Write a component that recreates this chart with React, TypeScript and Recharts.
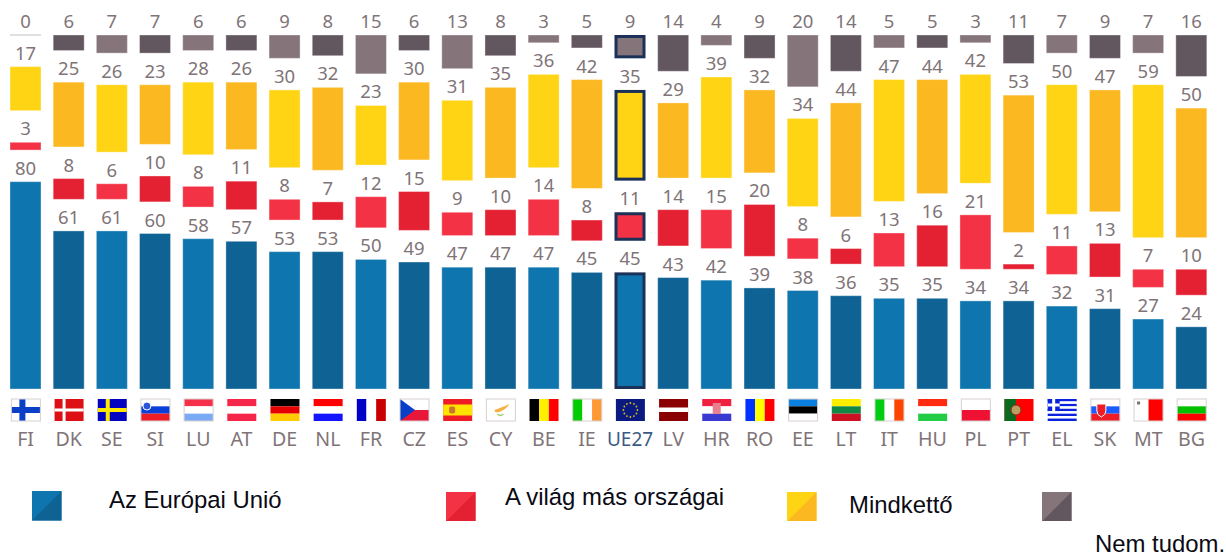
import React from "react";
import { BarChart, Bar, XAxis, YAxis, LabelList } from "recharts";

const countries = ["FI", "DK", "SE", "SI", "LU", "AT", "DE", "NL", "FR", "CZ", "ES", "CY", "BE", "IE", "UE27", "LV", "HR", "RO", "EE", "LT", "IT", "HU", "PL", "PT", "EL", "SK", "MT", "BG"];
const eu = [80, 61, 61, 60, 58, 57, 53, 53, 50, 49, 47, 47, 47, 45, 45, 43, 42, 39, 38, 36, 35, 35, 34, 34, 32, 31, 27, 24];
const world = [3, 8, 6, 10, 8, 11, 8, 7, 12, 15, 9, 10, 14, 8, 11, 14, 15, 20, 8, 6, 13, 16, 21, 2, 11, 13, 7, 10];
const both = [17, 25, 26, 23, 28, 26, 30, 32, 23, 30, 31, 35, 36, 42, 35, 29, 39, 32, 34, 44, 47, 44, 42, 53, 50, 47, 59, 50];
const dontKnow = [0, 6, 7, 7, 6, 6, 9, 8, 15, 6, 13, 8, 3, 5, 9, 14, 4, 9, 20, 14, 5, 5, 3, 11, 7, 9, 7, 16];

// empty space between the segments, in chart units
const SPACER = 12.2;

const chartData = countries.map((c, i) => ({
  country: c,
  eu: eu[i],
  gapA: SPACER,
  world: world[i],
  gapB: SPACER,
  both: both[i],
  gapC: SPACER,
  dontKnow: dontKnow[i],
}));

const BLUE = ["#0f75ae", "#0e6294"];
const RED = ["#f43245", "#e42133"];
const YELLOW = ["#ffd414", "#fbb820"];
const GREY = ["#85757a", "#62565f"];
const NAVY = "#1c3157";
const TEXT = "#7f7478";

const legendItems = [
  { label: "Az Európai Unió", colors: BLUE, box: [32, 491], text: [109, 508] },
  { label: "A világ más országai", colors: RED, box: [446, 491.5], text: [505, 505] },
  { label: "Mindkettő", colors: YELLOW, box: [787, 491.5], text: [849, 513] },
  { label: "Nem tudom.", colors: GREY, box: [1042, 491.5], text: [1095, 552] },
];

// flags with white at the edge have a visible grey frame
const framedFlags = ["FI", "SI", "LU", "CY", "IE", "IT", "PL", "EE", "SK", "MT", "BG", "CZ"];

function segment(colors: string[]) {
  return (props: any) => {
    const { x, y, width, height, index } = props;
    const fill = colors[index % 2];
    if (height <= 0) {
      return <line x1={x} x2={x + width} y1={y} y2={y} stroke="#c4bfc1" strokeWidth={1} />;
    }
    if (countries[index] === "UE27") {
      return <rect x={x + 1.5} y={y + 1.5} width={width - 3} height={height - 3} fill={fill} stroke={NAVY} strokeWidth={3} />;
    }
    return <rect x={x} y={y} width={width} height={height} fill={fill} stroke="#ffffff" strokeOpacity={0.35} strokeWidth={1} />;
  };
}

const W = 29;
const H = 22;

function hStripes(colors: string[]) {
  return colors.map((c, i) => <rect key={i} x={0} y={(i * H) / colors.length} width={W} height={H / colors.length} fill={c} />);
}
function vStripes(colors: string[]) {
  return colors.map((c, i) => <rect key={i} x={(i * W) / colors.length} y={0} width={W / colors.length} height={H} fill={c} />);
}
function cross(bg: string, fg: string, t: number) {
  return (
    <>
      <rect width={W} height={H} fill={bg} />
      <rect x={8} y={0} width={t} height={H} fill={fg} />
      <rect x={0} y={(H - t) / 2} width={W} height={t} fill={fg} />
    </>
  );
}

function flagBody(code: string) {
  switch (code) {
    case "FI": return cross("#ffffff", "#0a3fc8", 6);
    case "DK": return cross("#dd1016", "#ffffff", 3);
    case "SE": return cross("#0404c0", "#ffe800", 4);
    case "SI":
      return (
        <>
          {hStripes(["#ffffff", "#0a3fd8", "#ee1c25"])}
          <circle cx={6} cy={7} r={4} fill="#2a55d8" stroke="#ffffff" />
        </>
      );
    case "LU": return hStripes(["#f7304a", "#ffffff", "#7aa9f5"]);
    case "AT": return hStripes(["#f5264a", "#ffffff", "#f5264a"]);
    case "DE": return hStripes(["#000000", "#e60000", "#ffcc00"]);
    case "NL": return hStripes(["#ff0000", "#ffffff", "#1414ff"]);
    case "FR": return vStripes(["#0000c8", "#ffffff", "#c80000"]);
    case "CZ":
      return (
        <>
          {hStripes(["#ffffff", "#e8173a"])}
          <path d={`M0 0L15 ${H / 2}L0 ${H}Z`} fill="#0a3fc8" />
        </>
      );
    case "ES":
      return (
        <>
          <rect width={W} height={H} fill="#ee1c25" />
          <rect y={5.5} width={W} height={11} fill="#ffe400" />
          <rect x={6} y={7.5} width={6} height={7} rx={2} fill="#c8782a" />
        </>
      );
    case "CY":
      return (
        <>
          <rect width={W} height={H} fill="#ffffff" />
          <path d="M8 11Q14 9 23 5Q20 10 15 12Q12 14 9 13Z" fill="#f5b040" />
          <path d="M11 15Q14 18 17 15" stroke="#9ccf70" fill="none" strokeWidth={1.5} />
        </>
      );
    case "BE": return vStripes(["#000000", "#ffee00", "#ff0000"]);
    case "IE": return vStripes(["#00cc00", "#ffffff", "#ff9933"]);
    case "UE27":
      return (
        <>
          <rect width={W} height={H} fill="#0a1a80" />
          {Array.from({ length: 12 }, (_, i) => (
            <circle key={i} cx={W / 2 + 7 * Math.cos((i * Math.PI) / 6)} cy={H / 2 + 7 * Math.sin((i * Math.PI) / 6)} r={0.9} fill="#d8c020" />
          ))}
        </>
      );
    case "LV":
      return (
        <>
          <rect width={W} height={H} fill="#8b0000" />
          <rect y={8.5} width={W} height={4.5} fill="#ffffff" />
        </>
      );
    case "HR":
      return (
        <>
          {hStripes(["#f02040", "#ffffff", "#3a3ad0"])}
          <rect x={10.5} y={4} width={8} height={11} fill="#e88090" />
        </>
      );
    case "RO": return vStripes(["#0033ff", "#ffff00", "#ff0000"]);
    case "EE": return hStripes(["#0a80e0", "#000000", "#ffffff"]);
    case "LT": return hStripes(["#ffee00", "#118844", "#cc1122"]);
    case "IT": return vStripes(["#00cc11", "#ffffff", "#ff4400"]);
    case "HU": return hStripes(["#ff2a10", "#ffffff", "#22cc44"]);
    case "PL": return hStripes(["#ffffff", "#ee1133"]);
    case "PT":
      return (
        <>
          <rect width={W} height={H} fill="#ff0000" />
          <rect width={11.5} height={H} fill="#0a6a20" />
          <circle cx={11.5} cy={11} r={5} fill="#b8a060" stroke="#a02020" />
        </>
      );
    case "EL":
      return (
        <>
          {hStripes(["#0a22dd", "#ffffff", "#0a22dd", "#ffffff", "#0a22dd", "#ffffff", "#0a22dd", "#ffffff", "#0a22dd"])}
          <rect width={12} height={12} fill="#0a22dd" />
          <rect x={4.5} width={3} height={12} fill="#ffffff" />
          <rect y={4.5} width={12} height={3} fill="#ffffff" />
        </>
      );
    case "SK":
      return (
        <>
          {hStripes(["#ffffff", "#1a5cff", "#ee1c25"])}
          <path d="M6 5H15V12Q15 16 10.5 18Q6 16 6 12Z" fill="#ee1c25" stroke="#ffffff" />
        </>
      );
    case "MT":
      return (
        <>
          {vStripes(["#ffffff", "#ff0000"])}
          <rect x={3} y={2.5} width={3} height={3} fill="#807070" />
        </>
      );
    case "BG": return hStripes(["#ffffff", "#00c000", "#ff0000"]);
    default: return null;
  }
}

function CountryTick(props: any) {
  const { x, y, payload } = props;
  const code = payload.value as string;
  const isEu = code === "UE27";
  return (
    <g>
      <g transform={`translate(${x - 14.2},${y + 10})`}>
        {flagBody(code)}
        {framedFlags.includes(code) && (
          <rect x={0} y={0} width={W} height={H} fill="none" stroke="#d8d0ce" strokeWidth={1} />
        )}
      </g>
      <text
        x={x}
        y={y + 57}
        textAnchor="middle"
        fontFamily="'Noto Sans', sans-serif"
        fontSize={isEu ? 19 : 19.6}
        fill={isEu ? "#3a5a85" : TEXT}
      >
        {code}
      </text>
    </g>
  );
}

const labelProps = {
  position: "top" as const,
  offset: 7,
  fill: TEXT,
  fontSize: 18.5,
  fontFamily: "'Noto Sans', sans-serif",
};

function LegendBox({ colors, left, top }: { colors: string[]; left: number; top: number }) {
  return (
    <svg width={29.5} height={29.5} style={{ position: "absolute", left, top }}>
      <rect x={0} y={0} width={29.5} height={29.5} fill={colors[0]} />
      <path d="M29.5 0V29.5H0Z" fill={colors[1]} />
    </svg>
  );
}

export default function App() {
  return (
    <div style={{ position: "absolute", left: 0, top: 0, width: 1226, height: 553, overflow: "hidden", background: "#ffffff" }}>
      <BarChart
        width={1226}
        height={553}
        data={chartData}
        margin={{ top: 35, right: 13, bottom: 0, left: 4 }}
        barCategoryGap={12}
      >
        <XAxis
          dataKey="country"
          axisLine={false}
          tickLine={false}
          tickSize={0}
          tickMargin={0}
          interval={0}
          height={164}
          tick={CountryTick}
        />
        <YAxis hide domain={[0, 136.6]} />
        <Bar dataKey="eu" stackId="s" barSize={31} shape={segment(BLUE)} isAnimationActive={false}>
          <LabelList dataKey="eu" {...labelProps} />
        </Bar>
        <Bar dataKey="gapA" stackId="s" barSize={31} fill="none" isAnimationActive={false} />
        <Bar dataKey="world" stackId="s" barSize={31} shape={segment(RED)} isAnimationActive={false}>
          <LabelList dataKey="world" {...labelProps} />
        </Bar>
        <Bar dataKey="gapB" stackId="s" barSize={31} fill="none" isAnimationActive={false} />
        <Bar dataKey="both" stackId="s" barSize={31} shape={segment(YELLOW)} isAnimationActive={false}>
          <LabelList dataKey="both" {...labelProps} />
        </Bar>
        <Bar dataKey="gapC" stackId="s" barSize={31} fill="none" isAnimationActive={false} />
        <Bar dataKey="dontKnow" stackId="s" barSize={31} shape={segment(GREY)} isAnimationActive={false}>
          <LabelList dataKey="dontKnow" {...labelProps} />
        </Bar>
      </BarChart>

      {legendItems.map((item) => (
        <React.Fragment key={item.label}>
          <LegendBox colors={item.colors} left={item.box[0]} top={item.box[1]} />
          <svg width={260} height={40} style={{ position: "absolute", left: item.text[0], top: item.text[1] - 30, overflow: "visible" }}>
            <text x={0} y={30} fontFamily="'Liberation Sans', Arial, sans-serif" fontSize={23.9} fill="#0a0a14">
              {item.label}
            </text>
          </svg>
        </React.Fragment>
      ))}
    </div>
  );
}
